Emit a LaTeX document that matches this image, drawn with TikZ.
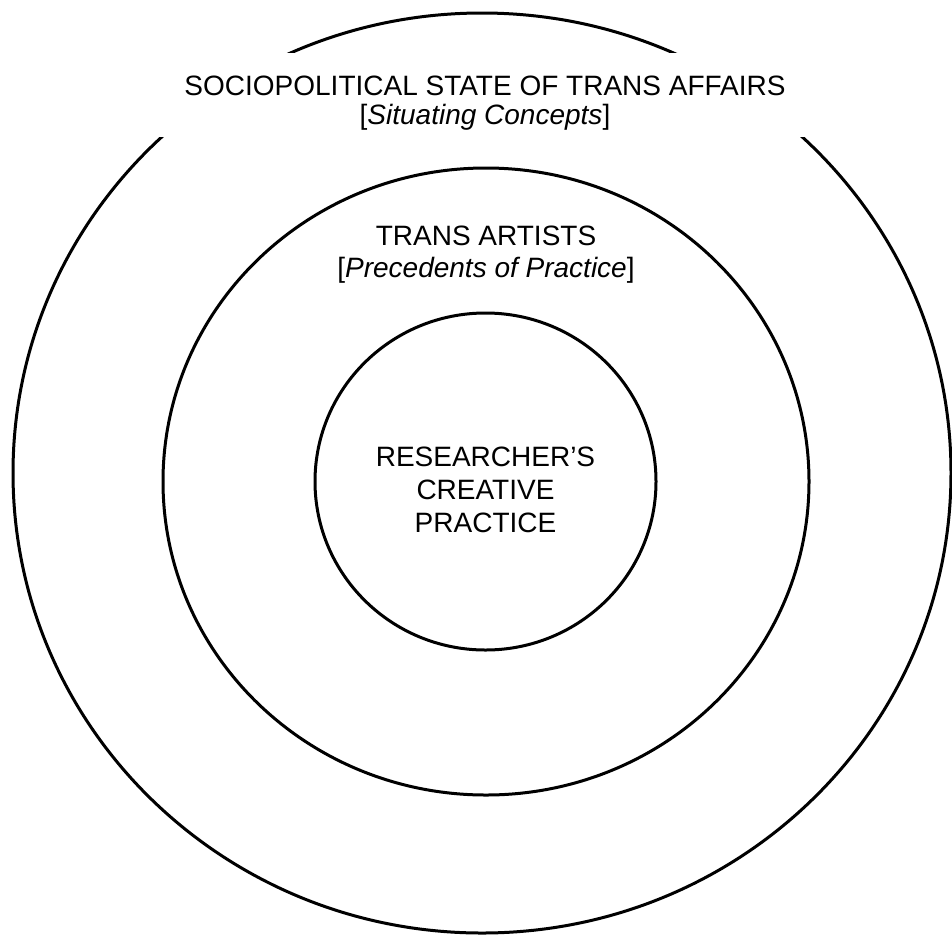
\documentclass[tikz,border=0pt]{standalone}
\usepackage{fontspec}
\setmainfont{Liberation Sans}
\usepackage{tikz}
\usetikzlibrary{positioning}
\tikzset{
	ring/.style={line width=3pt, black},
	ringlabel/.style={align=center, inner sep=0pt, font=\fontsize{28}{32}\selectfont}
}

\begin{document}
\begin{tikzpicture}[x=1pt, y=-1pt]
		\useasboundingbox (0,0) rectangle (952,935);
		%coordinates
		\coordinate (orig)  at (482,473);
		\coordinate (mid)   at (486,481.5);
		\coordinate (inn)   at (485.5,481.5);
		
		%circles
		\draw[ring] (orig) ellipse [x radius=469pt, y radius=460pt];
		\draw[ring] (mid) ellipse [x radius=323pt, y radius=313.5pt];
		\draw[ring] (inn) ellipse [x radius=170.5pt, y radius=168.5pt];
		
		%labels
		\node[fill=white, minimum width=655pt, minimum height=84pt, inner sep=0pt] (mask) at (482,95) {};
		\node[ringlabel, font=\fontsize{28}{29}\selectfont] (affairs) at (485,103) {SOCIOPOLITICAL STATE OF TRANS AFFAIRS\\ {[}\textit{Situating Concepts}]};
		\node[ringlabel] (artists) at (486,255) {TRANS ARTISTS\\ {[}\textit{Precedents of Practice}]};
		\node[ringlabel, font=\fontsize{28}{33}\selectfont] (practice) at (485.5,490) {RESEARCHER'S\\ CREATIVE\\ PRACTICE};
\end{tikzpicture}
\end{document}
